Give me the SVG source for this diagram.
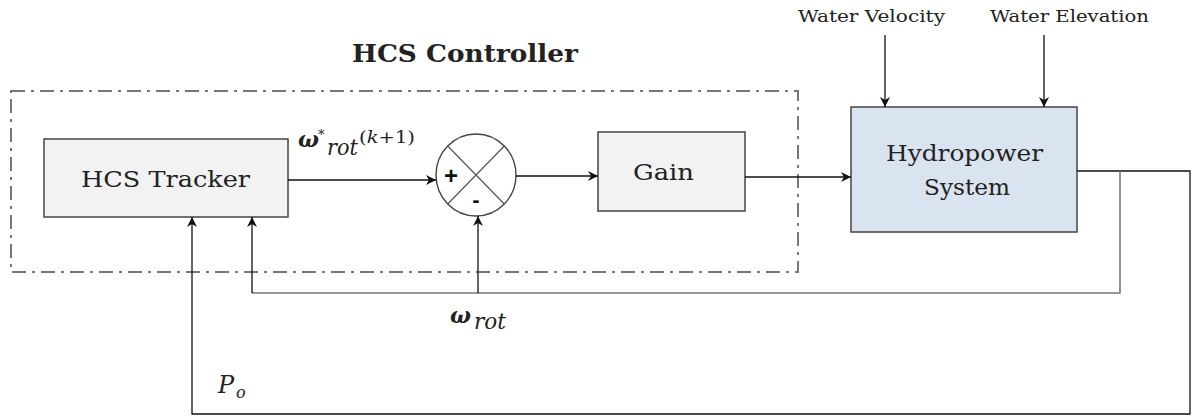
<svg xmlns="http://www.w3.org/2000/svg" width="1193" height="417" viewBox="0 0 1193 417">
<style>
.box{stroke:#444;stroke-width:1.5}
.ln{fill:none;stroke:#111;stroke-width:1.3}
.gl{fill:none;stroke:#777;stroke-width:1.6}
</style>
<defs>
<marker id="ah" viewBox="0 0 10 10" refX="10" refY="5" markerWidth="10" markerHeight="10" markerUnits="userSpaceOnUse" orient="auto">
<path d="M0,0 L10,5 L0,10 L3,5 Z" fill="#111"/>
</marker>
</defs>
<rect x="0" y="0" width="1193" height="417" fill="#fff"/>
<g id="controller">
<rect x="11" y="91" width="787" height="181" fill="none" stroke="#777" stroke-width="2" stroke-dasharray="14,6,3,6"/>
<text x="352" y="62" font-family="'DejaVu Serif','Liberation Serif',serif" font-size="25" font-weight="bold" fill="#222" textLength="226" lengthAdjust="spacingAndGlyphs">HCS Controller</text>
</g>
<g id="tracker">
<rect class="box" x="44" y="139" width="244" height="78" fill="#f2f2f2"/>
<text x="81" y="187" font-family="'DejaVu Serif','Liberation Serif',serif" font-size="23" fill="#222" textLength="169" lengthAdjust="spacingAndGlyphs">HCS Tracker</text>
</g>
<g id="sum">
<ellipse cx="476" cy="175" rx="40" ry="41" fill="#fff" stroke="#444" stroke-width="1.4"/>
<line x1="447.7" y1="146" x2="504.3" y2="204" stroke="#555" stroke-width="1.2"/>
<line x1="504.3" y1="146" x2="447.7" y2="204" stroke="#555" stroke-width="1.2"/>
<text x="451" y="184" font-family="'Liberation Sans',Arial,sans-serif" font-size="24" font-weight="bold" text-anchor="middle" fill="#111">+</text>
<text x="476" y="207" font-family="'Liberation Sans',Arial,sans-serif" font-size="22" font-weight="bold" text-anchor="middle" fill="#111">-</text>
</g>
<g id="gain">
<rect class="box" x="598" y="132" width="147" height="79" fill="#f2f2f2"/>
<text x="633" y="180" font-family="'DejaVu Serif','Liberation Serif',serif" font-size="23" fill="#222" textLength="61" lengthAdjust="spacingAndGlyphs">Gain</text>
</g>
<g id="hydro">
<rect class="box" x="851" y="107" width="226" height="125" fill="#dae3f0"/>
<text x="886" y="161" font-family="'DejaVu Serif','Liberation Serif',serif" font-size="23" fill="#222" textLength="157" lengthAdjust="spacingAndGlyphs">Hydropower</text>
<text x="924" y="195" font-family="'DejaVu Serif','Liberation Serif',serif" font-size="23" fill="#222" textLength="86" lengthAdjust="spacingAndGlyphs">System</text>
</g>
<g id="inputs">
<text x="798" y="22" font-family="'DejaVu Serif','Liberation Serif',serif" font-size="17" fill="#222" textLength="147" lengthAdjust="spacingAndGlyphs">Water Velocity</text>
<text x="990" y="22" font-family="'DejaVu Serif','Liberation Serif',serif" font-size="17" fill="#222" textLength="159" lengthAdjust="spacingAndGlyphs">Water Elevation</text>
</g>
<g id="labels" font-family="'DejaVu Serif','Liberation Serif',serif" fill="#222">
<text x="298" y="147" font-size="22" font-weight="bold" font-style="italic">ω</text>
<text x="318" y="139" font-size="13">*</text>
<text x="327" y="155" font-size="22" font-style="italic" textLength="31" lengthAdjust="spacingAndGlyphs">rot</text>
<text x="359" y="143" font-size="17" textLength="56" lengthAdjust="spacingAndGlyphs">(<tspan font-style="italic">k</tspan>+1)</text>
<text x="450" y="323" font-size="22" font-weight="bold" font-style="italic">ω</text>
<text x="474" y="329" font-size="22" font-style="italic" textLength="32" lengthAdjust="spacingAndGlyphs">rot</text>
<text x="218" y="393" font-size="24" font-style="italic">P</text>
<text x="236" y="398" font-size="16" font-style="italic">o</text>
</g>
<g id="connectors">
<line class="ln" x1="288" y1="180" x2="436" y2="180" marker-end="url(#ah)"/>
<line class="ln" x1="516" y1="176" x2="598" y2="176" marker-end="url(#ah)"/>
<line class="ln" x1="745" y1="177" x2="851" y2="177" marker-end="url(#ah)"/>
<line class="ln" x1="885" y1="35" x2="885" y2="107" marker-end="url(#ah)"/>
<line class="ln" x1="1044" y1="35" x2="1044" y2="107" marker-end="url(#ah)"/>
<polyline class="ln" points="1077,171 1190,171 1190,414 192,414 192,217" marker-end="url(#ah)"/>
<polyline class="gl" points="1120,171 1120,293 252,293"/>
<line class="ln" x1="252" y1="293" x2="252" y2="217" marker-end="url(#ah)"/>
<line class="ln" x1="478" y1="293" x2="478" y2="216" marker-end="url(#ah)"/>
</g>
</svg>
